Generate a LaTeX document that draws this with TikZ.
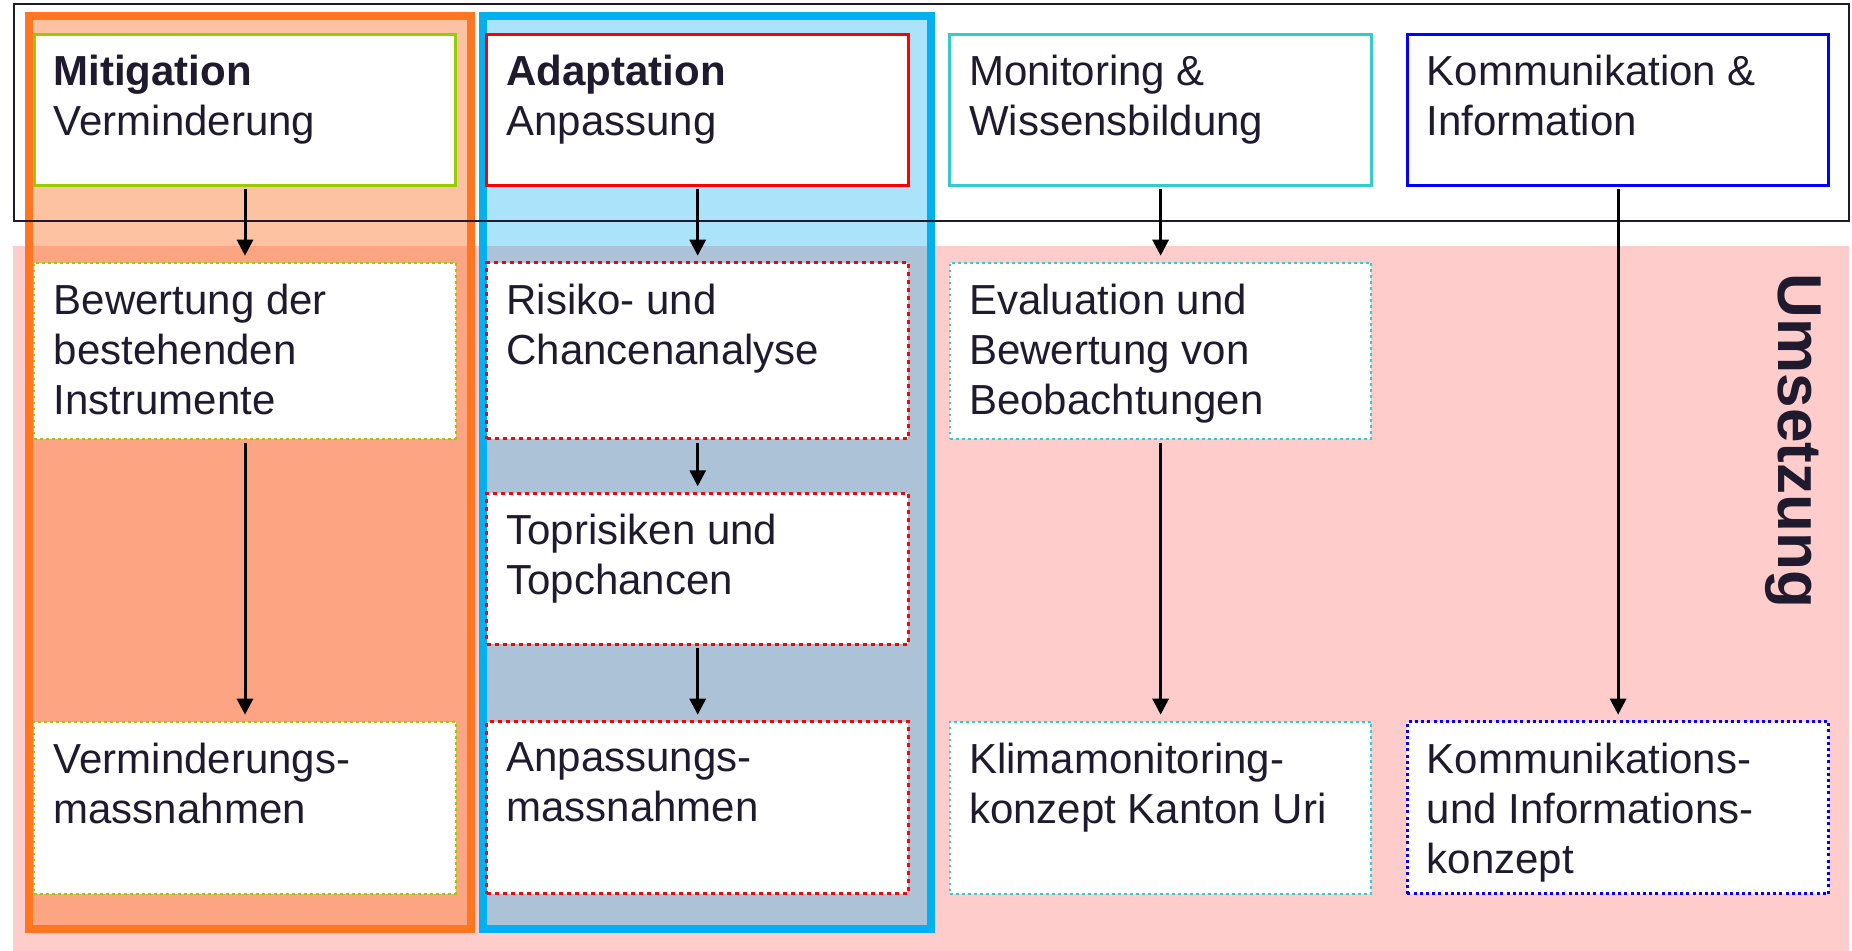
\documentclass[tikz,border=0pt]{standalone}
\usepackage{fontspec}
\setmainfont{Liberation Sans}
\usetikzlibrary{positioning, arrows.meta}
\definecolor{txtcol}{RGB}{31,26,46}
\definecolor{mitgreen}{RGB}{153,204,0}
\definecolor{adared}{RGB}{255,0,0}
\definecolor{monturq}{RGB}{51,204,204}
\definecolor{komblue}{RGB}{0,0,255}
\definecolor{orangecol}{RGB}{255,118,33}
\definecolor{orangefill}{RGB}{251,111,31}
\definecolor{bluecol}{RGB}{0,176,240}
\definecolor{umspink}{RGB}{255,204,204}
\tikzset{
block/.style={
  draw=#1,
  fill=white,
  rectangle,
  minimum width=210.75pt,
  inner sep=0pt, outer sep=0pt
  },
head/.style={block=#1, line width=1.5pt, minimum height=75.5pt},
task/.style={block=#1, line width=1pt, dash pattern=on 1.4pt off 1.6pt},
redtask/.style={block=adared, line width=1.5pt, dash pattern=on 2pt off 2pt},
txt/.style={anchor=north west, align=left, inner sep=0pt, xshift=9.5pt, yshift=-10.4pt,
  font=\fontsize{21}{25}\selectfont, text=txtcol},
column/.style={draw=#1, line width=4pt},
line/.style={->, >={Triangle[length=8pt, width=8pt]}, line width=1.5pt,
  shorten >=3.5pt, shorten <=2pt}
}
\begin{document}
\begin{tikzpicture}[x=0.5pt, y=-0.5pt]
\useasboundingbox[fill=white] (0,0) rectangle (1852,951);

% Umsetzung background and the two columns
\fill[umspink] (13,246) rectangle (1849,951);
\filldraw[column=orangecol, fill=orangefill, fill opacity=0.42] (29,16) rectangle (470.5,929);
\filldraw[column=bluecol, fill=bluecol, fill opacity=0.33] (483,16) rectangle (931,929);
\draw[line width=1pt, draw=txtcol] (13.5,4.5) rectangle (1849,221);

% top row
\node[head=mitgreen, label={[txt]north west:{\textbf{Mitigation}\\Verminderung}}]	(mit)	at (245,109.8)	{};
\node[head=adared, label={[txt]north west:{\textbf{Adaptation}\\Anpassung}}]	(ada)	[right=15.6pt of mit]	{};
\node[head=monturq, label={[txt]north west:{Monitoring \&\\Wissensbildung}}]	(mon)	[right=20.7pt of ada]	{};
\node[head=komblue, label={[txt]north west:{Kommunikation \&\\Information}}]	(kom)	[right=18pt of mon]	{};

% Umsetzung
\node[task=mitgreen, minimum height=88pt,
  label={[txt]north west:{Bewertung der\\bestehenden\\Instrumente}}]	(bew)	[below=38.7pt of mit]	{};
\node[redtask, minimum height=88pt,
  label={[txt]north west:{Risiko- und\\Chancenanalyse}}]	(ris)	[below=38.7pt of ada]	{};
\node[redtask, minimum height=75.5pt,
  label={[txt]north west:{Toprisiken und\\Topchancen}}]	(top)	[below=27.3pt of ris]	{};
\node[task=monturq, minimum height=88pt,
  label={[txt]north west:{Evaluation und\\Bewertung von\\Beobachtungen}}]	(eva)	[below=38.7pt of mon]	{};

\node[task=mitgreen, minimum height=86pt,
  label={[txt]north west:{Verminderungs-\\massnahmen}}]	(vmn)	[below=141.5pt of bew]	{};
\node[redtask, minimum height=86pt,
  label={[txt]north west:{Anpassungs-\\massnahmen}}]	(apm)	[below=38.7pt of top]	{};
\node[task=monturq, minimum height=86pt,
  label={[txt]north west:{Klimamonitoring-\\konzept Kanton Uri}}]	(kmk)	[below=141.5pt of eva]	{};
\node[task=komblue, line width=1.5pt, dash pattern=on 1.5pt off 1.6pt, minimum height=86pt,
  label={[txt]north west:{Kommunikations-\\und Informations-\\konzept}}]	(kik)	[below=268.2pt of kom]	{};

\node[rotate=-90, inner sep=0pt, font=\bfseries\fontsize{31}{31}\selectfont, text=txtcol]	(ums)	at (1793,441)	{Umsetzung};

\draw[line]	(mit)	--	(bew);
\draw[line]	(bew)	--	(vmn);
\draw[line]	(ada)	--	(ris);
\draw[line]	(ris)	--	(top);
\draw[line]	(top)	--	(apm);
\draw[line]	(mon)	--	(eva);
\draw[line]	(eva)	--	(kmk);
\draw[line]	(kom)	--	(kik);
\end{tikzpicture}
\end{document}
